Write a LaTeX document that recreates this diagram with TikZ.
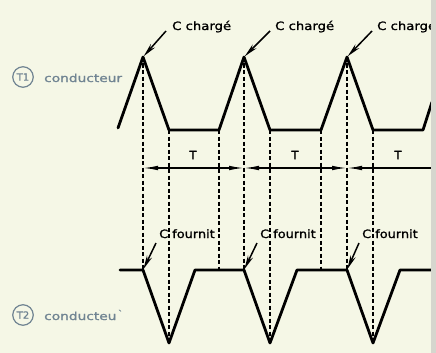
\documentclass[tikz,border=0pt]{standalone}
\usepackage{fontspec}
\usepackage{graphicx}
\setmainfont[FakeBold=1.2]{DejaVu Sans}
\usetikzlibrary{arrows.meta}
\definecolor{bg}{RGB}{245,247,230}
\definecolor{lbl}{RGB}{112,132,146}
\definecolor{band}{RGB}{214,214,206}
\tikzset{dimtip/.tip={Latex[length=15pt,width=4.6pt]}}
\begin{document}
\begin{tikzpicture}[x=1pt,y=-1pt,
  wave/.style={line width=2.8pt, line join=round, line cap=round},
  guide/.style={line width=1.4pt, dash pattern=on 4pt off 2.5pt},
  pointer/.style={line width=1.5pt, -{Stealth[length=14pt,width=5.5pt]}, shorten >=1pt},
  dimline/.style={line width=1.4pt},
  txt/.style={inner sep=0pt, anchor=base west, font=\fontsize{11.5}{13}\selectfont},
  tlabel/.style={inner sep=0pt, font=\fontsize{11.5}{12}\selectfont},
  circ/.style={circle, draw=lbl, line width=1.2pt, minimum size=20.5pt, inner sep=0pt, text=lbl, font=\fontsize{10}{10}\selectfont},
  cond/.style={inner sep=0pt, anchor=base west, text=lbl, font=\fontsize{11}{12}\selectfont}
]
\fill[bg] (0,0) rectangle (436,353);
\useasboundingbox (0,0) rectangle (436,353);

% top waveform points
\coordinate (a0) at (118,128);
\coordinate (p1) at (143,57);
\coordinate (f1) at (169,130);
\coordinate (f1e) at (219,130);
\coordinate (p2) at (244,57);
\coordinate (f2) at (270,130);
\coordinate (f2e) at (321,130);
\coordinate (p3) at (347,57);
\coordinate (f3) at (373,130);
\coordinate (f3e) at (423,130);
\coordinate (a4) at (432,102);

% bottom waveform points
\coordinate (b0) at (120,270);
\coordinate (v1s) at (143,270);
\coordinate (v1) at (169,343);
\coordinate (v1e) at (195,270);
\coordinate (g1) at (219,270);
\coordinate (v2s) at (244,270);
\coordinate (v2) at (270,343);
\coordinate (v2e) at (297,270);
\coordinate (g2) at (321,270);
\coordinate (v3s) at (347,270);
\coordinate (v3) at (373,343);
\coordinate (v3e) at (400,270);
\coordinate (b4) at (434,270);

% dashed guides
\draw[guide] (p1) -- (v1s);
\draw[guide] (f1) -- (v1);
\draw[guide] (f1e) -- (g1);
\draw[guide] (p2) -- (v2s);
\draw[guide] (f2) -- (v2);
\draw[guide] (f2e) -- (g2);
\draw[guide] (p3) -- (v3s);
\draw[guide] (f3) -- (v3);

% waveforms
\draw[wave] (a0) -- (p1) -- (f1) -- (f1e) -- (p2) -- (f2) -- (f2e) -- (p3) -- (f3) -- (f3e) -- (a4);
\draw[wave] (b0) -- (v1s) -- (v1) -- (v1e) -- (v2s) -- (v2) -- (v2e) -- (v3s) -- (v3) -- (v3e) -- (b4);

% period line
\coordinate (t0) at (143,168);
\coordinate (t1) at (244,168);
\coordinate (t2) at (347,168);
\coordinate (tend) at (434,168);
\draw[dimline, dimtip-dimtip] (t0) -- (t1);
\draw[dimline, dimtip-dimtip] (t1) -- (t2);
\draw[dimline, dimtip-] (t2) -- (tend);
\node[tlabel] (T1lab) at (193,155) {T};
\node[tlabel] (T2lab) at (295,155) {T};
\node[tlabel] (T3lab) at (398,155) {T};

% C chargé
\node[txt] (cc1) at (172,30) {\scalebox{1.15}[1]{C chargé}};
\node[txt] (cc2) at (275,30) {\scalebox{1.15}[1]{C chargé}};
\node[txt] (cc3) at (377,30) {\scalebox{1.15}[1]{C chargé}};
\coordinate (cc1t) at (166,31);
\coordinate (cc2t) at (270,31);
\coordinate (cc3t) at (372,31);
\draw[pointer] (cc1t) -- (p1);
\draw[pointer] (cc2t) -- (p2);
\draw[pointer] (cc3t) -- (p3);

% C fournit
\node[txt] (cf1) at (159,238) {\scalebox{1.12}[1]{C fournit}};
\node[txt] (cf2) at (260,238) {\scalebox{1.12}[1]{C fournit}};
\node[txt] (cf3) at (362,238) {\scalebox{1.12}[1]{C fournit}};
\coordinate (cf1t) at (156,243);
\coordinate (cf2t) at (257,243);
\coordinate (cf3t) at (359,243);
\draw[pointer] (cf1t) -- (v1s);
\draw[pointer] (cf2t) -- (v2s);
\draw[pointer] (cf3t) -- (v3s);

% labels
\node[circ] (c1) at (23,77) {T1};
\node[cond] (k1) at (44,82) {\scalebox{1.25}[1]{conducteur}};
\node[circ] (c2) at (23,315) {T2};
\node[cond] (k2) at (44,320) {\scalebox{1.25}[1]{conducteu\textsuperscript{\,\textasciigrave}}};

% scan edge band
\fill[band] (431,0) rectangle (436,353);
\end{tikzpicture}
\end{document}
